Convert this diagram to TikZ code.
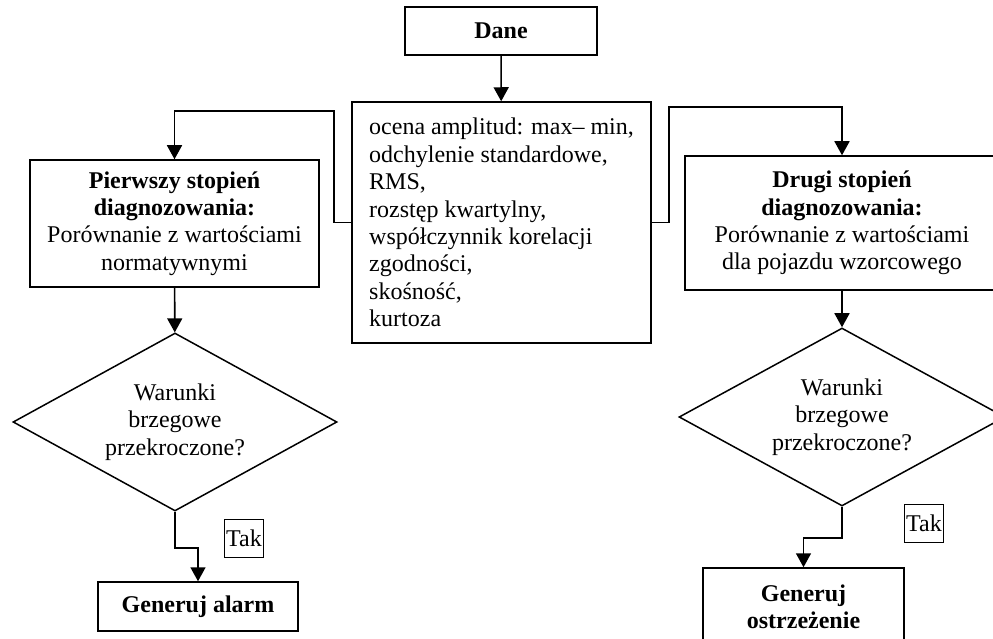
\documentclass[tikz,border=0pt]{standalone}
\usepackage{fontspec}
\setmainfont{Liberation Serif}
\usetikzlibrary{arrows.meta,shapes.geometric}
\begin{document}
\begin{tikzpicture}[x=1pt,y=-1pt,
  every node/.style={font=\fontsize{24}{27.4}\selectfont, inner sep=0pt},
  box/.style={draw, line width=1.5pt, rectangle, align=center},
  decision/.style={draw, line width=1.5pt, diamond, align=center, shape aspect=1.82},
  tag/.style={draw, line width=1pt, rectangle, inner sep=2pt, minimum height=38pt},
  flow/.style={line width=1.6pt, -{Triangle[width=15pt,length=14pt]}}]
\useasboundingbox (0,0) rectangle (993,639);
\clip (0,0) rectangle (993,639);
\fill[white] (0,0) rectangle (993,639);

% boxes
\node[box, minimum width=192pt, minimum height=48pt] (dane) at (501,31) {\textbf{Dane}};
\node[box, minimum width=299pt, minimum height=241pt, align=left] (mid) at (501.5,222.5)
  {ocena amplitud: max– min,\\odchylenie standardowe,\\RMS,\\rozstęp kwartylny,\\współczynnik korelacji\\zgodności,\\skośność,\\kurtoza};
\node[box, minimum width=289pt, minimum height=127pt] (first) at (174.5,223.5)
  {\textbf{Pierwszy stopień}\\\textbf{diagnozowania:}\\Porównanie z wartościami\\normatywnymi};
\node[box, minimum width=314pt, minimum height=134pt] (second) at (842,223)
  {\textbf{Drugi stopień}\\\textbf{diagnozowania:}\\Porównanie z wartościami\\dla pojazdu wzorcowego};
\node[decision, minimum width=324pt, minimum height=178pt] (cond1) at (175,422)
  {Warunki\\brzegowe\\przekroczone?};
\node[decision, minimum width=326pt, minimum height=178pt] (cond2) at (842,417)
  {Warunki\\brzegowe\\przekroczone?};
\node[box, minimum width=200pt, minimum height=49pt] (alarm) at (198,606.5) {\textbf{Generuj alarm}};
\node[box, minimum width=201pt, minimum height=78pt] (warn) at (803.5,607) {\textbf{Generuj}\\\textbf{ostrzeżenie}};
\node[tag] (tak1) at (244,538) {Tak};
\node[tag] (tak2) at (924,523) {Tak};

% connectors
\draw[flow] (dane) -- (mid);
\draw[flow] (mid.west) -- ++(-17,0) |- ([yshift=48pt]first.north) -- (first.north);
\draw[flow] (mid.east) -- ++(17,0) |- ([yshift=48pt]second.north) -- (second.north);
\draw[flow] (first) -- (cond1);
\draw[flow] (second) -- (cond2);
\draw[flow] (cond1.south) -- ++(0,36) -| (alarm.north);
\draw[flow] (cond2.south) -- ++(0,31) -| (warn.north);
\end{tikzpicture}
\end{document}
